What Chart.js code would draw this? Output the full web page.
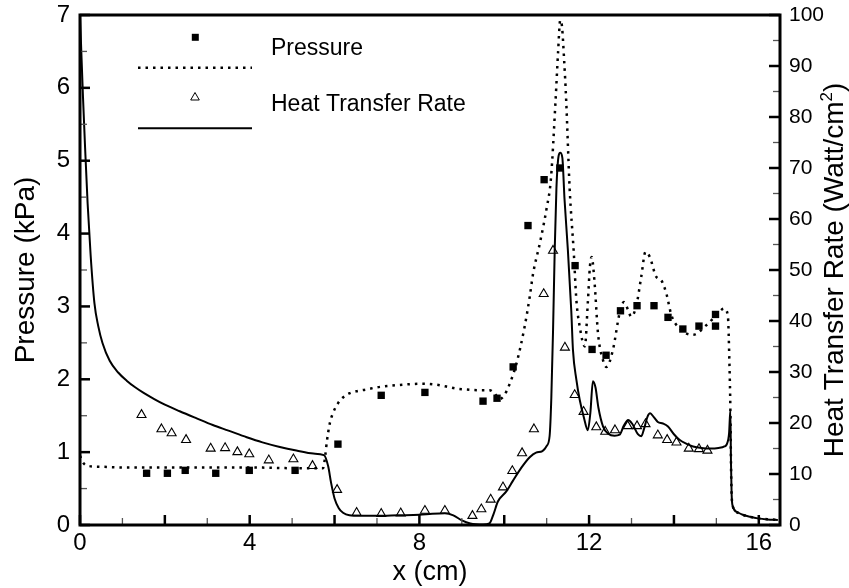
<!DOCTYPE html>
<html>
<head>
<meta charset="utf-8">
<script src="https://cdn.jsdelivr.net/npm/chart.js@4/dist/chart.umd.min.js"></script>
<style>
  html, body { margin: 0; padding: 0; background: #fff; }
  canvas { display: block; }
</style>
</head>
<body>
<canvas id="chart" width="849" height="588"></canvas>
<script>
// computed heat transfer rate (W/cm^2) along x (cm)
const heatLineX = [0.00, 0.03, 0.07, 0.12, 0.18, 0.25, 0.34, 0.43, 0.53, 0.70, 0.90, 1.10, 1.30, 1.50, 1.75,
  2.00, 2.35, 2.75, 3.13, 3.50, 3.93, 4.30, 4.71, 5.10, 5.50, 5.75, 5.85, 5.92, 6.00, 6.10, 6.20, 6.35,
  6.60, 7.00, 7.50, 8.00, 8.30, 8.60, 8.80, 9.00, 9.20, 9.50, 9.65, 9.75, 9.85, 10.05, 10.20, 10.40, 10.60,
  10.75, 10.90, 11.00, 11.07, 11.11, 11.15, 11.19, 11.23, 11.28, 11.32, 11.37, 11.42, 11.50, 11.58, 11.62,
  11.70, 11.78, 11.88, 11.97, 12.03, 12.09, 12.15, 12.22, 12.33, 12.45, 12.60, 12.72, 12.82, 12.92, 13.02,
  13.15, 13.23, 13.30, 13.38, 13.44, 13.52, 13.62, 13.74, 13.86, 14.00, 14.13, 14.30, 14.45, 14.65, 14.84,
  15.05, 15.19, 15.25, 15.30, 15.33, 15.345, 15.36, 15.39, 15.50, 15.62, 15.80, 15.98, 16.20, 16.45];
const heatLineY = [100, 93, 84, 74, 63, 53, 43.5, 39, 35.7, 32.2, 29.9, 28.3, 27.0, 25.9, 24.7,
  23.6, 22.3, 20.9, 19.6, 18.5, 17.2, 16.2, 15.3, 14.6, 14.0, 13.7, 11.5, 8.2, 5.2, 3.3, 2.4, 1.9,
  1.8, 1.8, 1.9, 2.0, 2.2, 2.3, 1.9, 0.9, 0.3, 0.1, 0.3, 2.2, 4.6, 6.6, 8.6, 11.2, 13.3,
  14.2, 14.5, 15.5, 17.5, 25, 38, 54, 66, 72.3, 73, 72, 64, 53.9, 42, 34.3,
  28.5, 24.5, 21, 18.6, 22, 28.2, 27, 23, 19.3, 17.9, 17.5, 17.7, 19.5, 20.6, 19.8,
  17.8, 17.4, 19, 21.3, 21.9, 21.2, 20.2, 19.9, 19.3, 17.8, 16.7, 15.9, 15.4, 15.1, 15.0,
  15.1, 15.4, 15.9, 18, 22.5, 12, 6, 3.6, 2.5, 2.0, 1.6, 1.3, 1.1, 1.0];

// computed wall pressure (kPa) along x (cm)
const pressLineX = [0.00, 0.08, 0.20, 0.50, 1.00, 2.00, 3.00, 4.00, 5.00, 5.50, 5.73, 5.78, 5.82, 5.89, 5.98,
  6.08, 6.20, 6.36, 6.55, 6.75, 7.00, 7.30, 7.70, 8.09, 8.35, 8.64, 8.90, 9.11, 9.40, 9.66, 9.78, 9.89,
  10.00, 10.13, 10.29, 10.48, 10.60, 10.68, 10.84, 11.00, 11.10, 11.21, 11.27, 11.32, 11.36, 11.41, 11.46,
  11.54, 11.64, 11.70, 11.78, 11.90, 11.97, 12.02, 12.06, 12.13, 12.21, 12.33, 12.41, 12.56, 12.72, 12.82,
  12.92, 12.99, 13.11, 13.23, 13.33, 13.43, 13.58, 13.70, 13.82, 13.94, 14.13, 14.45, 14.76, 15.00, 15.18,
  15.27, 15.31, 15.33, 15.345, 15.36, 15.39, 15.50, 15.62, 15.80, 15.98, 16.20, 16.45];
const pressLineY = [0.95, 0.85, 0.81, 0.80, 0.79, 0.79, 0.79, 0.79, 0.78, 0.78, 0.78, 0.95, 1.15, 1.40, 1.56,
  1.67, 1.75, 1.81, 1.84, 1.86, 1.89, 1.91, 1.93, 1.94, 1.93, 1.90, 1.87, 1.86, 1.85, 1.85, 1.80, 1.73,
  1.78, 1.94, 2.22, 2.72, 3.13, 3.45, 3.87, 4.35, 4.75, 5.83, 6.50, 6.93, 6.85, 6.40, 5.83,
  4.64, 3.73, 3.09, 2.72, 2.45, 3.05, 3.55, 3.68, 3.32, 2.63, 2.26, 2.17, 2.40, 2.91, 3.06,
  2.95, 2.86, 3.00, 3.41, 3.75, 3.68, 3.41, 3.36, 3.18, 2.88, 2.70, 2.61, 2.74, 2.88, 2.97,
  2.88, 2.17, 1.60, 0.84, 0.42, 0.25, 0.17, 0.14, 0.11, 0.09, 0.08, 0.07];

// measured pressure (kPa)
const pressExpX = [1.57, 2.06, 2.48, 3.20, 3.99, 5.07, 6.08, 7.10, 8.13, 9.50, 9.83, 10.21, 10.56, 10.94,
  11.31, 11.67, 12.07, 12.40, 12.74, 13.13, 13.53, 13.86, 14.21, 14.59, 14.98, 14.98];
const pressExpY = [0.71, 0.71, 0.75, 0.71, 0.75, 0.75, 1.11, 1.78, 1.82, 1.70, 1.74, 2.17, 4.11, 4.74,
  4.90, 3.56, 2.41, 2.33, 2.94, 3.01, 3.01, 2.85, 2.69, 2.73, 2.73, 2.89];

// measured heat transfer rate (W/cm^2)
const heatExpX = [1.45, 1.92, 2.16, 2.50, 3.08, 3.42, 3.71, 3.99, 4.45, 5.03, 5.48, 6.06, 6.52, 7.10, 7.56,
  8.13, 8.60, 9.25, 9.46, 9.68, 9.97, 10.19, 10.42, 10.70, 10.93, 11.15, 11.43, 11.66, 11.87, 12.17,
  12.38, 12.61, 12.91, 13.13, 13.33, 13.62, 13.84, 14.06, 14.35, 14.59, 14.79];
const heatExpY = [21.6, 18.8, 18.0, 16.7, 15.0, 15.1, 14.3, 13.9, 12.7, 12.9, 11.6, 6.9, 2.4, 2.2, 2.3,
  2.8, 2.8, 1.8, 3.1, 5.0, 7.4, 10.6, 14.1, 18.8, 45.3, 53.8, 34.8, 25.5, 22.2, 19.2,
  18.3, 18.6, 19.4, 19.4, 19.8, 17.6, 16.7, 16.2, 15.0, 14.9, 14.6];

const xTicks = [0, 4, 8, 12, 16];
const seriesNames = ["Pressure", "Heat Transfer Rate"];

const FONT = "'Liberation Sans', Arial, Helvetica, sans-serif";
const DOTS = [2.5, 5];

const toPoints = (xs, ys) => xs.map((x, i) => ({ x: x, y: ys[i] }));

// keep the plot box fixed: no extra room for half-height labels
const fixBox = (w, h) => (s) => {
  if (w) s.width = w;
  if (h) s.height = h;
  s.paddingTop = 0;
  s.paddingBottom = 0;
  s.paddingLeft = 0;
  s.paddingRight = 0;
};

// inward tick marks, frame, axis titles and the key
const frame = {
  id: "frame",
  afterDraw: (chart) => {
    const { ctx, chartArea: a, scales } = chart;
    const x = scales.x, yl = scales.y, yr = scales.y1;
    ctx.save();

    const tick = (x1, y1, x2, y2, major) => {
      ctx.beginPath();
      ctx.lineWidth = major ? 2.5 : 1.3;
      ctx.strokeStyle = major ? "#000" : "#555";
      ctx.moveTo(x1, y1);
      ctx.lineTo(x2, y2);
      ctx.stroke();
    };
    for (let v = 0; v <= 16; v++) {
      const px = x.getPixelForValue(v);
      tick(px, a.bottom, px, a.bottom - (v % 2 === 0 ? 10 : 7), v % 2 === 0);
    }
    for (let v = 0; v <= 7; v += 0.5) {
      const py = yl.getPixelForValue(v);
      const major = Number.isInteger(v);
      tick(a.left, py, a.left + (major ? 10 : 7), py, major);
    }
    for (let v = 0; v <= 100; v += 5) {
      const py = yr.getPixelForValue(v);
      const major = v % 10 === 0;
      tick(a.right, py, a.right - (major ? 11 : 7), py, major);
    }

    ctx.lineWidth = 3;
    ctx.strokeStyle = "#000";
    ctx.strokeRect(a.left, a.top, a.right - a.left, a.bottom - a.top);

    // axis titles
    ctx.fillStyle = "#000";
    ctx.font = `27px ${FONT}`;
    ctx.textAlign = "center";
    ctx.textBaseline = "alphabetic";
    ctx.fillText("x (cm)", (a.left + a.right) / 2, 580);

    const midY = (a.top + a.bottom) / 2;
    ctx.save();
    ctx.translate(34, midY);
    ctx.rotate(-Math.PI / 2);
    ctx.font = `28px ${FONT}`;
    ctx.fillText("Pressure (kPa)", 0, 0);
    ctx.restore();

    ctx.save();
    ctx.translate(843, midY);
    ctx.rotate(-Math.PI / 2);
    ctx.textAlign = "left";
    const main = "Heat Transfer Rate (Watt/cm";
    ctx.font = `28px ${FONT}`;
    const w1 = ctx.measureText(main).width;
    const w3 = ctx.measureText(")").width;
    ctx.font = `17px ${FONT}`;
    const w2 = ctx.measureText("2").width;
    const sx = -(w1 + w2 + w3) / 2;
    ctx.font = `28px ${FONT}`;
    ctx.fillText(main, sx, 0);
    ctx.font = `17px ${FONT}`;
    ctx.fillText("2", sx + w1, -11);
    ctx.font = `28px ${FONT}`;
    ctx.fillText(")", sx + w1 + w2, 0);
    ctx.restore();

    // key
    ctx.strokeStyle = "#000";
    ctx.fillStyle = "#000";
    ctx.fillRect(195.3 - 3.5, 37.3 - 3.5, 7, 7);
    ctx.beginPath();
    ctx.lineWidth = 2.5;
    ctx.setLineDash(DOTS);
    ctx.moveTo(138, 67.7);
    ctx.lineTo(252, 67.7);
    ctx.stroke();
    ctx.setLineDash([]);

    ctx.beginPath();
    ctx.lineWidth = 1;
    ctx.moveTo(195, 92.5);
    ctx.lineTo(199.3, 100);
    ctx.lineTo(190.7, 100);
    ctx.closePath();
    ctx.fillStyle = "#fff";
    ctx.fill();
    ctx.stroke();

    ctx.beginPath();
    ctx.lineWidth = 2;
    ctx.moveTo(138, 128.3);
    ctx.lineTo(252, 128.3);
    ctx.stroke();

    ctx.fillStyle = "#000";
    ctx.font = `23px ${FONT}`;
    ctx.textAlign = "left";
    ctx.textBaseline = "middle";
    ctx.fillText(seriesNames[0], 271, 49);
    ctx.fillText(seriesNames[1], 271, 105);
    ctx.restore();
  },
};

new Chart(document.getElementById("chart").getContext("2d"), {
  type: "scatter",
  data: {
    datasets: [
      {
        label: seriesNames[0] + " (computed)",
        data: toPoints(pressLineX, pressLineY),
        yAxisID: "y",
        showLine: true,
        borderColor: "#000",
        borderWidth: 2.5,
        borderDash: DOTS,
        pointRadius: 0,
        cubicInterpolationMode: "monotone",
      },
      {
        label: seriesNames[1] + " (computed)",
        data: toPoints(heatLineX, heatLineY),
        yAxisID: "y1",
        showLine: true,
        borderColor: "#000",
        borderWidth: 2,
        pointRadius: 0,
        cubicInterpolationMode: "monotone",
      },
      {
        label: seriesNames[0],
        data: toPoints(pressExpX, pressExpY),
        yAxisID: "y",
        pointStyle: "rect",
        pointRadius: 5.2,
        backgroundColor: "#000",
        borderWidth: 0,
      },
      {
        label: seriesNames[1],
        data: toPoints(heatExpX, heatExpY),
        yAxisID: "y1",
        pointStyle: "triangle",
        pointRadius: 5.2,
        backgroundColor: "#fff",
        borderColor: "#000",
        borderWidth: 1.1,
      },
    ],
  },
  options: {
    responsive: false,
    animation: false,
    layout: { padding: { top: 15, left: 0, right: 0, bottom: 0 } },
    scales: {
      x: {
        type: "linear",
        min: 0,
        max: 16.5,
        afterFit: fixBox(0, 63),
        afterBuildTicks: (s) => { s.ticks = xTicks.map((v) => ({ value: v })); },
        grid: { display: false, drawTicks: false },
        border: { display: false },
        ticks: { color: "#000", padding: 4, font: { family: FONT, size: 24 }, maxRotation: 0 },
      },
      y: {
        position: "left",
        min: 0,
        max: 7,
        afterFit: fixBox(80, 0),
        grid: { display: false, drawTicks: false },
        border: { display: false },
        ticks: { stepSize: 1, color: "#000", padding: 10, font: { family: FONT, size: 24 } },
      },
      y1: {
        position: "right",
        min: 0,
        max: 100,
        afterFit: fixBox(69, 0),
        grid: { display: false, drawTicks: false },
        border: { display: false },
        ticks: { stepSize: 10, color: "#000", padding: 9, font: { family: FONT, size: 21 } },
      },
    },
    plugins: {
      legend: { display: false },
      tooltip: { enabled: false },
    },
  },
  plugins: [frame],
});
</script>
</body>
</html>
